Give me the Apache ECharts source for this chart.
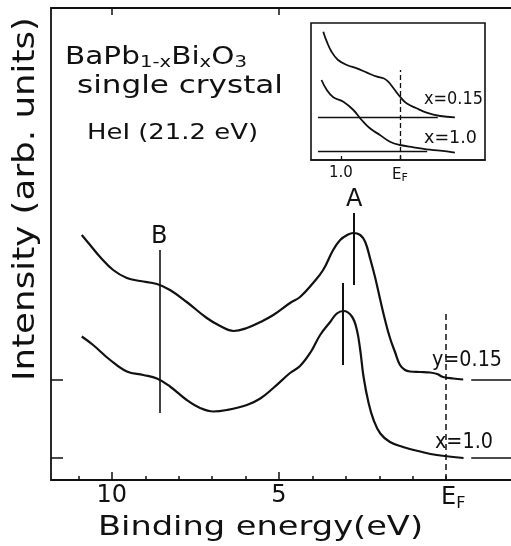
<!DOCTYPE html>
<html><head><meta charset="utf-8">
<script src="https://cdn.jsdelivr.net/npm/echarts@6/dist/echarts.min.js"></script>
<style>html,body{margin:0;padding:0;background:#fff}#c{width:511px;height:546px}</style>
</head><body><div id="c"></div><script>
// ---- data (binding energy in eV, intensity in arbitrary units) ----
const energyTicks = [0,1,2,3,4,6,7,8,9,11];
const energyMajorTicks = [10,5];
const energyLabels = [10,5,0];
const topTicks = [10,5];
const baselineLevels = [2.2,10.05];
const curveX015 = [[10.90,24.5],[10.65,23.5],[10.35,22.3],[9.96,21.0],[9.55,20.2],[9.15,19.9],[8.65,19.6],[8.26,19.0],[7.76,17.8],[7.16,16.2],[6.76,15.4],[6.36,14.9],[5.96,15.2],[5.56,15.8],[5.17,16.5],[4.67,17.7],[4.37,18.3],[3.98,19.7],[3.68,21.0],[3.38,23.0],[3.17,24.0],[2.96,24.5],[2.78,24.7],[2.57,24.5],[2.42,23.8],[2.27,22.1],[2.12,20.2],[1.97,18.0],[1.82,15.9],[1.68,14.2],[1.53,12.8],[1.38,11.5],[1.23,11.0],[1.08,10.85],[0.78,10.8],[0.48,10.75],[0.27,10.6],[0.09,10.3],[-0.21,10.15],[-0.51,10.05]];
const curveX10 = [[10.90,14.35],[10.56,13.5],[10.05,12.0],[9.55,10.85],[9.06,10.5],[8.65,10.15],[8.26,9.35],[7.76,8.0],[7.36,7.2],[6.97,6.85],[6.56,7.0],[5.96,7.5],[5.56,8.15],[5.17,9.2],[4.67,10.7],[4.37,11.4],[4.05,12.8],[3.77,14.5],[3.47,15.8],[3.27,16.65],[3.07,16.9],[2.82,16.35],[2.67,15.0],[2.57,13.0],[2.47,10.3],[2.32,7.7],[2.17,6.0],[1.97,4.65],[1.68,3.8],[1.29,3.3],[0.78,2.85],[0.28,2.5],[-0.52,2.2]];
const markerB = [8.58,6.7,23.0];       // energy, from, to
const markerA = [2.75,19.5,26.7];
const markerA2 = [3.08,11.5,19.7];
const fermiLine = [0,0,16.8];
const tailDash = [-0.75,-1.94];        // energy range of right-side baseline dashes
// inset
const insetTicks = [1,0];
const insetX015 = [[1.30,12.83],[1.24,11.83],[1.16,10.83],[1.05,10.0],[0.90,9.5],[0.73,9.17],[0.56,8.73],[0.39,8.33],[0.28,8.17],[0.20,7.83],[0.11,7.17],[0.00,6.33],[-0.11,5.67],[-0.28,5.17],[-0.45,4.73],[-0.68,4.4],[-0.93,4.27]];
const insetX10 = [[1.33,8.0],[1.24,7.0],[1.13,6.27],[0.96,5.83],[0.79,5.0],[0.65,4.0],[0.51,3.17],[0.34,2.5],[0.17,1.83],[0.00,1.5],[-0.23,1.27],[-0.45,1.07],[-0.68,0.93],[-0.93,0.73]];
const insetBase015 = [1.39,-0.64,4.27];  // from, to, level
const insetBase10 = [1.39,-0.46,0.83];
const insetFermi = [0,0,9.0];

// ---- helpers ----
const INK = '#111';
const FF = '"DejaVu Sans"';
const mctx = document.createElement('canvas').getContext('2d');
function fit(text, size, target) {
  mctx.font = size + 'px ' + FF;
  return target / mctx.measureText(text).width;
}
function label(text, size, left, baseline, target) {
  return {type:'text', x:left, y:baseline - 0.346*size, scaleX: fit(text,size,target),
    style:{text:text, font:size+'px '+FF, fill:INK, align:'left', verticalAlign:'middle'}};
}
function vline(e, a, b, extra) {
  return [Object.assign({coord:[e,a]}, extra||{}), {coord:[e,b]}];
}
function hline(e1, e2, v) { return [{coord:[e1,v]}, {coord:[e2,v]}]; }

const solid = {color:INK, width:1.6, type:'solid'};
const dashed = {color:INK, width:1.5, type:[6,4]};

const chart = echarts.init(document.getElementById('c'), null, {renderer:'canvas'});
const efRich = {e:{fontSize:24, fontFamily:FF, color:INK, padding:[0,0,0,14], lineHeight:28}, f:{fontSize:16, fontFamily:FF, color:INK, verticalAlign:'bottom', lineHeight:16}};
const efRichSmall = {e:{fontSize:15, fontFamily:FF, color:INK, lineHeight:18}, f:{fontSize:11, fontFamily:FF, color:INK, verticalAlign:'bottom', lineHeight:11}};

const titleNatural = (function(){ let w=0; mctx.font='24px '+FF; w+=mctx.measureText('BaPbBiO').width; mctx.font='16px '+FF; w+=mctx.measureText('1-xx3').width; return w; })();

const mainRange = {min:-1.94, max:11.82};

chart.setOption({
  animation:false,
  backgroundColor:'#fff',
  grid:[
    {left:51, top:8, right:0, bottom:66},
    {left:311, top:23, width:174, height:137, show:true, borderColor:INK, borderWidth:1.6, backgroundColor:'#fff'}
  ],
  xAxis:[
    {type:'value', gridIndex:0, position:'bottom', inverse:true, min:mainRange.min, max:mainRange.max,
     axisLine:{show:true, onZero:false, lineStyle:{color:INK, width:1.8}},
     axisTick:{show:true, inside:true, length:4, customValues:energyTicks, lineStyle:{color:INK, width:1.5}},
     axisLabel:{show:true, customValues:energyLabels, margin:4, fontSize:24, fontFamily:FF, color:INK,
       formatter:function(v){ return v===0 ? '{e|E}{f|F}' : String(v); }, rich:efRich},
     splitLine:{show:false}},
    {type:'value', gridIndex:0, position:'top', inverse:true, min:mainRange.min, max:mainRange.max,
     axisLine:{show:true, onZero:false, lineStyle:{color:INK, width:1.8}},
     axisTick:{show:true, inside:true, length:7, customValues:topTicks, lineStyle:{color:INK, width:1.5}},
     axisLabel:{show:false}, splitLine:{show:false}},
    {type:'value', gridIndex:1, position:'bottom', inverse:true, min:-1.44, max:1.508,
     axisLine:{show:true, onZero:false, lineStyle:{color:INK, width:1.6}},
     axisTick:{show:true, inside:true, length:4, customValues:insetTicks, lineStyle:{color:INK, width:1.3}},
     axisLabel:{show:true, customValues:insetTicks, margin:6, fontSize:15, fontFamily:FF, color:INK,
       formatter:function(v){ return v===0 ? '{e|E}{f|F}' : v.toFixed(1); }, rich:efRichSmall},
     splitLine:{show:false}},
    {type:'value', gridIndex:0, position:'bottom', inverse:true, min:mainRange.min, max:mainRange.max,
     axisLine:{show:false, onZero:false},
     axisTick:{show:true, inside:true, length:8, customValues:energyMajorTicks, lineStyle:{color:INK, width:1.5}},
     axisLabel:{show:false}, splitLine:{show:false}}
  ],
  yAxis:[
    {type:'value', gridIndex:0, min:0, max:47.2,
     axisLine:{show:true, onZero:false, lineStyle:{color:INK, width:1.8}},
     axisTick:{show:true, inside:true, length:12, customValues:baselineLevels, lineStyle:{color:INK, width:1.5}},
     axisLabel:{show:false}, splitLine:{show:false}},
    {type:'value', gridIndex:1, min:0, max:13.7, show:false}
  ],
  series:[
    {type:'line', name:'x=0.15', xAxisIndex:0, yAxisIndex:0, data:curveX015, smooth:0.4, showSymbol:false,
     lineStyle:{color:INK, width:2.2},
     markLine:{silent:true, symbol:['none','none'], label:{show:false}, lineStyle:solid,
       data:[
         vline(markerA[0], markerA[1], markerA[2], {label:{show:true, position:'end', formatter:'A', distance:1, fontSize:24, fontFamily:FF, color:INK}, lineStyle:{color:INK,width:2,type:'solid'}}),
         vline(markerA2[0], markerA2[1], markerA2[2], {lineStyle:{color:INK,width:2,type:'solid'}}),
         vline(markerB[0], markerB[1], markerB[2], {label:{show:true, position:'end', formatter:'B', distance:1, fontSize:24, fontFamily:FF, color:INK}}),
         vline(fermiLine[0], fermiLine[1], fermiLine[2], {lineStyle:dashed}),
         hline(tailDash[0], tailDash[1], baselineLevels[1]),
         hline(tailDash[0], tailDash[1], baselineLevels[0])
       ]}},
    {type:'line', name:'x=1.0', xAxisIndex:0, yAxisIndex:0, data:curveX10, smooth:0.4, showSymbol:false,
     lineStyle:{color:INK, width:2.2}},
    {type:'line', name:'inset x=0.15', xAxisIndex:2, yAxisIndex:1, data:insetX015, smooth:0.4, showSymbol:false,
     lineStyle:{color:INK, width:1.8},
     markLine:{silent:true, symbol:['none','none'], label:{show:false}, lineStyle:{color:INK,width:1.4,type:'solid'},
       data:[
         hline(insetBase015[0], insetBase015[1], insetBase015[2]),
         hline(insetBase10[0], insetBase10[1], insetBase10[2]),
         vline(insetFermi[0], insetFermi[1], insetFermi[2], {lineStyle:{color:INK,width:1.3,type:[5,3]}})
       ]}},
    {type:'line', name:'inset x=1.0', xAxisIndex:2, yAxisIndex:1, data:insetX10, smooth:0.4, showSymbol:false,
     lineStyle:{color:INK, width:1.8}}
  ],
  graphic:[
    {type:'text', x:65, y:45, scaleX:182/titleNatural,
     style:{text:'{m|BaPb}{s|1-x}{m|Bi}{s|x}{m|O}{s|3}', fill:INK, align:'left', verticalAlign:'top',
       rich:{m:{fontSize:24, fontFamily:FF, fill:INK, lineHeight:26}, s:{fontSize:16, fontFamily:FF, fill:INK, lineHeight:16, verticalAlign:'bottom'}}}},
    label('single crystal', 24, 77, 95, 206),
    label('HeI (21.2 eV)', 21, 87, 141, 171),
    label('Binding energy(eV)', 27, 98, 537, 325),
    label('y=0.15', 21, 432, 368, 70),
    label('x=1.0', 21, 435, 450, 58),
    label('x=0.15', 18, 424, 106, 59),
    label('x=1.0', 18, 424, 145, 53),
    {type:'text', x:26.6, y:381, rotation:Math.PI/2, scaleX:fit('Intensity (arb. units)',30,364),
     style:{text:'Intensity (arb. units)', font:'30px '+FF, fill:INK, align:'left', verticalAlign:'middle'}}
  ]
});
</script></body></html>
